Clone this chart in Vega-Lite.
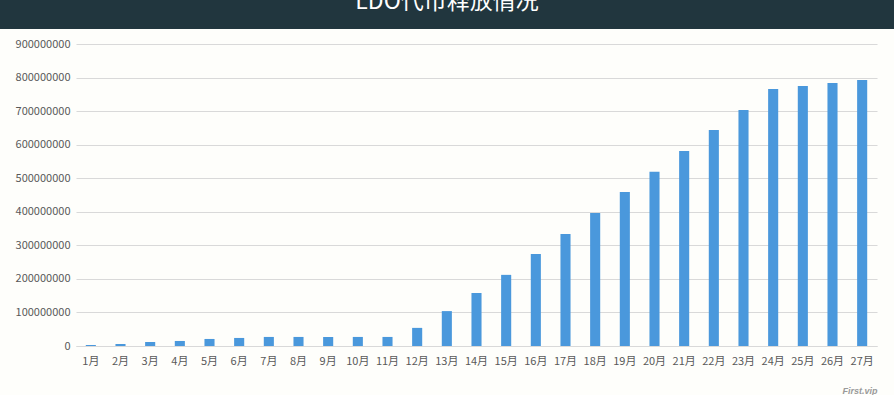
{
  "$schema": "https://vega.github.io/schema/vega-lite/v6.json",
  "background": "#fefefb",
  "padding": {"left": 0, "top": 0, "right": 0, "bottom": 0},
  "spacing": 9,
  "columns": 1,
  "config": {
    "font": "Noto Sans CJK SC",
    "view": {"stroke": null}
  },
  "concat": [
    {
      "width": 818,
      "height": 29,
      "view": {"fill": "#21363e", "stroke": null},
      "data": {"values": [{"title": "LDO代币释放情况", "pos": 0}]},
      "mark": {"type": "text", "clip": true, "color": "#ffffff", "fontSize": 23, "baseline": "middle", "dy": -13, "dx": -38, "font": "Noto Sans CJK SC"},
      "encoding": {
        "text": {"field": "title"},
        "y": {
          "field": "pos",
          "type": "quantitative",
          "scale": {"domain": [-1, 1]},
          "axis": {"title": null, "labels": false, "ticks": false, "grid": false, "translate": 0, "domainWidth": 152, "domainColor": "#21363e", "domainCap": "butt"}
        }
      }
    },
    {
      "width": 801,
      "height": 302,
      "data": {
        "values": [
          {"month": "1月", "value": 3000000},
          {"month": "2月", "value": 6000000},
          {"month": "3月", "value": 12000000},
          {"month": "4月", "value": 15000000},
          {"month": "5月", "value": 21000000},
          {"month": "6月", "value": 24000000},
          {"month": "7月", "value": 27000000},
          {"month": "8月", "value": 27000000},
          {"month": "9月", "value": 27000000},
          {"month": "10月", "value": 27000000},
          {"month": "11月", "value": 27000000},
          {"month": "12月", "value": 54000000},
          {"month": "13月", "value": 104000000},
          {"month": "14月", "value": 158000000},
          {"month": "15月", "value": 212000000},
          {"month": "16月", "value": 274000000},
          {"month": "17月", "value": 334000000},
          {"month": "18月", "value": 396000000},
          {"month": "19月", "value": 459000000},
          {"month": "20月", "value": 519000000},
          {"month": "21月", "value": 581000000},
          {"month": "22月", "value": 644000000},
          {"month": "23月", "value": 703000000},
          {"month": "24月", "value": 766000000},
          {"month": "25月", "value": 775000000},
          {"month": "26月", "value": 784000000},
          {"month": "27月", "value": 793000000}
        ]
      },
      "mark": {"type": "bar", "color": "#4a98dc"},
      "encoding": {
        "x": {
          "field": "month",
          "type": "ordinal",
          "sort": null,
          "scale": {"paddingInner": 0.66, "paddingOuter": 0.33},
          "axis": {
            "title": "First.vip",
            "titleAnchor": "end",
            "titleFontSize": 9,
            "titleFontStyle": "italic",
            "titleFontWeight": "bold",
            "titleColor": "#9a9a9a",
            "titlePadding": 20,
            "titleFont": "Liberation Sans",
            "labelAngle": 0,
            "ticks": false,
            "domainColor": "#d9d9d9",
            "labelColor": "#595959",
            "labelFontSize": 11,
            "labelPadding": 9,
            "labelFont": "Noto Sans CJK SC"
          }
        },
        "y": {
          "field": "value",
          "type": "quantitative",
          "scale": {"domain": [0, 900000000], "nice": false},
          "axis": {
            "title": null,
            "values": [0, 100000000, 200000000, 300000000, 400000000, 500000000, 600000000, 700000000, 800000000, 900000000],
            "format": "d",
            "domain": false,
            "ticks": false,
            "gridColor": "#d9d9d9",
            "labelColor": "#595959",
            "labelFontSize": 11,
            "labelPadding": 6,
            "labelOverlap": false,
            "minExtent": 76,
            "labelFont": "Noto Sans CJK SC"
          }
        }
      }
    }
  ]
}
